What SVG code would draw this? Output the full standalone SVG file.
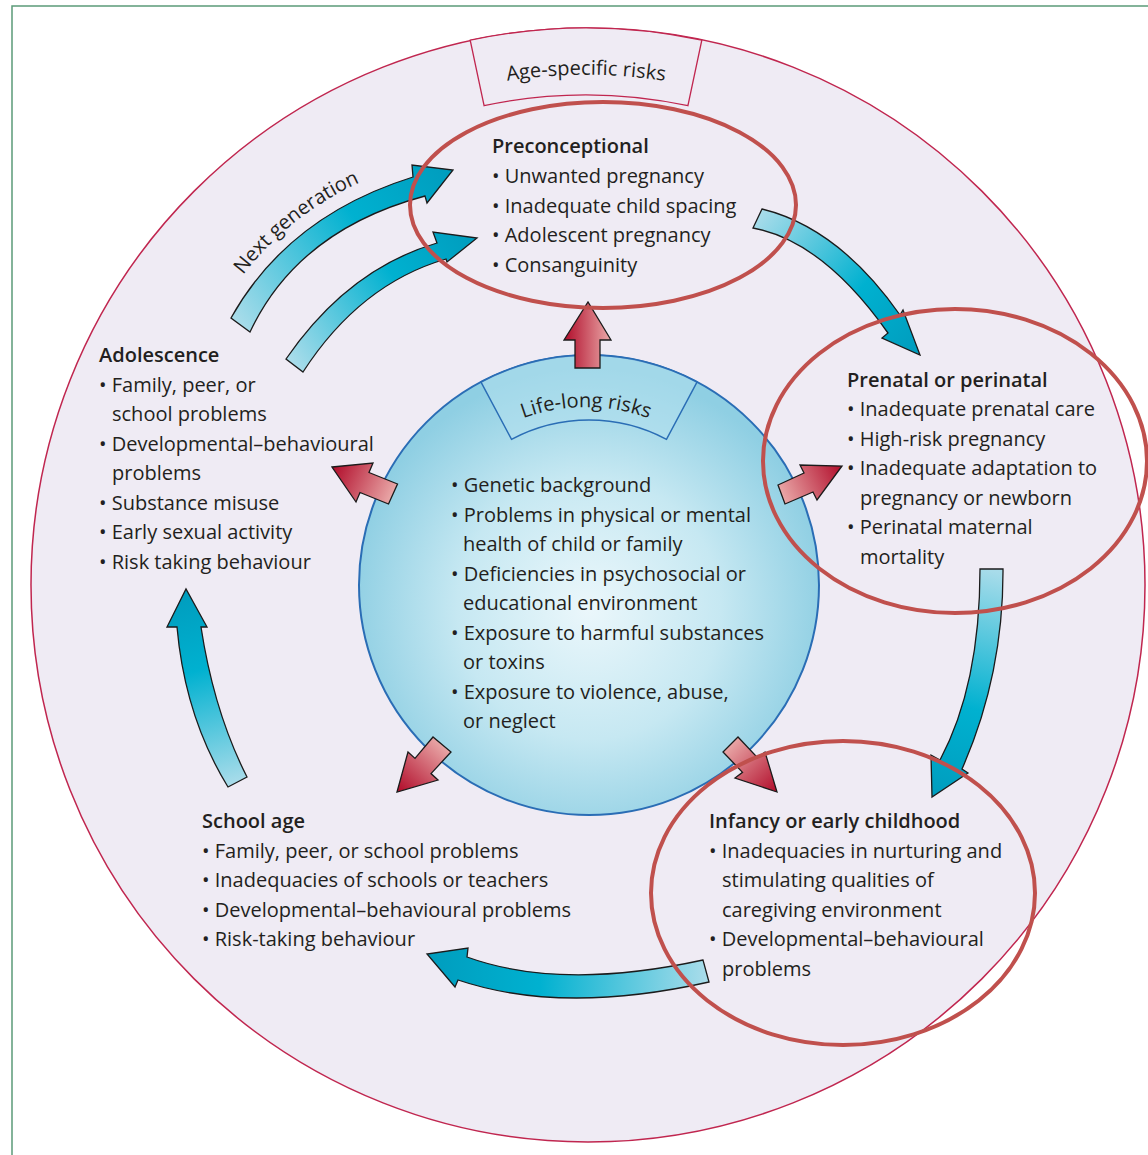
<svg xmlns="http://www.w3.org/2000/svg" width="1148" height="1155" viewBox="0 0 1148 1155">
<defs>
<style>
text{font-family:"Open Sans","Liberation Sans",sans-serif;font-size:20px;fill:#231f20}
.h{font-weight:600}
.blue{stroke:#1b1b1b;stroke-width:1.3;stroke-linejoin:miter}
.red{stroke:#1b1b1b;stroke-width:1.3;stroke-linejoin:miter}
.ring{fill:none;stroke:#c0504d;stroke-width:4}
</style>
<radialGradient id="core" cx="50%" cy="55%" r="52%">
<stop offset="0" stop-color="#ebf7fb"/>
<stop offset="0.55" stop-color="#c6e8f2"/>
<stop offset="1" stop-color="#8fcfe3"/>
</radialGradient>
<linearGradient id="bg">
<stop offset="0" stop-color="#a8dcea"/>
<stop offset="0.6" stop-color="#00b1d0"/>
<stop offset="1" stop-color="#009dbe"/>
</linearGradient>
<linearGradient id="rg">
<stop offset="0" stop-color="#e9a7a7"/>
<stop offset="1" stop-color="#b3122f"/>
</linearGradient>
<linearGradient id="b1" href="#bg" gradientUnits="userSpaceOnUse" x1="240" y1="325" x2="450" y2="172"/>
<linearGradient id="b2" href="#bg" gradientUnits="userSpaceOnUse" x1="295" y1="365" x2="475" y2="240"/>
<linearGradient id="b3" href="#bg" gradientUnits="userSpaceOnUse" x1="757" y1="218" x2="918" y2="350"/>
<linearGradient id="b4" href="#bg" gradientUnits="userSpaceOnUse" x1="990" y1="570" x2="935" y2="795"/>
<linearGradient id="b5" href="#bg" gradientUnits="userSpaceOnUse" x1="706" y1="970" x2="430" y2="960"/>
<linearGradient id="b6" href="#bg" gradientUnits="userSpaceOnUse" x1="238" y1="782" x2="186" y2="592"/>
<linearGradient id="r1" href="#rg" gradientUnits="userSpaceOnUse" x1="610" y1="340" x2="566" y2="340"/>
<linearGradient id="r2" href="#rg" gradientUnits="userSpaceOnUse" x1="393" y1="494" x2="335" y2="468"/>
<linearGradient id="r3" href="#rg" gradientUnits="userSpaceOnUse" x1="781" y1="494" x2="840" y2="467"/>
<linearGradient id="r4" href="#rg" gradientUnits="userSpaceOnUse" x1="442" y1="744" x2="400" y2="790"/>
<linearGradient id="r5" href="#rg" gradientUnits="userSpaceOnUse" x1="730" y1="744" x2="775" y2="790"/>
<path id="ageArc" d="M 416,104 A 509 509 0 0 1 756,104"/>
<path id="lifeArc" d="M 473,447 A 180 180 0 0 1 699,447"/>
<path id="nextArc" d="M 243,275 Q 295,208 375,176"/>
</defs>

<rect x="0" y="0" width="1148" height="1155" fill="#ffffff"/>
<rect x="12" y="6" width="1200" height="1200" fill="none" stroke="#5b9a78" stroke-width="1.5"/>

<g id="outer">
<circle cx="588" cy="585" r="557" fill="#efebf4" stroke="#c0264f" stroke-width="1.5"/>
</g>

<g id="age-label">
<path d="M 470.2,40.2 A 557 557 0 0 1 701.8,40.2 L 687.9,105.7 A 490 490 0 0 0 484.1,105.7 Z" fill="#efebf4" stroke="#c0264f" stroke-width="1.3"/>
<text font-size="22.5"><textPath href="#ageArc" startOffset="50%" text-anchor="middle">Age-specific risks</textPath></text>
</g>

<g id="connectors">
<path class="blue" fill="url(#b1)" d="M 231,318 Q 288,216 413,177 L 412,165 L 453,170 L 427,203 L 425,196 Q 298,230 250,332 Z"/>
<path class="blue" fill="url(#b2)" d="M 286,359 Q 348,269 437,243 L 433,232 L 477,238 L 447,262 L 446,259 Q 360,284 303,372 Z"/>
<path class="blue" fill="url(#b3)" d="M 762,209 Q 839,228 900,315 L 903,310 L 920,355 L 882,338 L 888,333 Q 823,241 753,228 Z"/>
<path class="blue" fill="url(#b4)" d="M 980,569 L 1003,569 Q 1003.5,675 962,769 L 968,773 L 932,797 L 931,755 L 940,760 Q 980,685 980,569 Z"/>
<path class="blue" fill="url(#b5)" d="M 703,960 Q 561,991 467,957 L 468,948 L 427,954 L 455,987 L 458,980 Q 562,1015 709,982 Z"/>
<path class="blue" fill="url(#b6)" d="M 228,787 Q 185,717 177,627 L 167,627 L 186,589 L 207,627 L 201,627 Q 214,712 247,777 Z"/>
<text><textPath href="#nextArc">Next generation</textPath></text>
</g>

<g id="lifelong">
<circle cx="589" cy="585" r="230" fill="url(#core)" stroke="#2a6db5" stroke-width="2"/>
<path d="M 481,382 A 230 230 0 0 1 697,382 L 666.5,439.3 A 165 165 0 0 0 511.5,439.3 Z" fill="#b3e0ee" fill-opacity="0.55" stroke="#2a6db5" stroke-width="1.5"/>
<text font-size="22"><textPath href="#lifeArc" startOffset="50%" text-anchor="middle">Life-long risks</textPath></text>
<text x="451" y="492">• Genetic background</text>
<text x="451" y="521.5">• Problems in physical or mental</text>
<text x="463" y="551">health of child or family</text>
<text x="451" y="580.5">• Deficiencies in psychosocial or</text>
<text x="463" y="610">educational environment</text>
<text x="451" y="639.5">• Exposure to harmful substances</text>
<text x="463" y="669">or toxins</text>
<text x="451" y="698.5">• Exposure to violence, abuse,</text>
<text x="463" y="728">or neglect</text>
</g>

<g id="red-arrows">
<path class="red" fill="url(#r1)" d="M 575,368 L 575,340 L 564,340 L 588,302 L 611,340 L 600,340 L 600,368 Z"/>
<path class="red" fill="url(#r2)" d="M 332,467 L 373,463 L 369,472.5 L 397.5,484 L 388.5,504 L 360,492.5 L 356,502 Z"/>
<path class="red" fill="url(#r3)" d="M 842,466 L 817,500 L 813,492 L 785,504 L 778,485 L 804,473 L 800,465 Z"/>
<path class="red" fill="url(#r4)" d="M 397,792 L 408,752 L 415,758.4 L 433,737 L 451,752 L 431,773.6 L 438,780 Z"/>
<path class="red" fill="url(#r5)" d="M 777,792 L 735,778 L 742.5,772.3 L 723,752 L 738,737 L 757.5,757.7 L 765,752 Z"/>
</g>

<g id="preconceptional">
<text class="h" x="492" y="153">Preconceptional</text>
<text x="492" y="183">• Unwanted pregnancy</text>
<text x="492" y="212.5">• Inadequate child spacing</text>
<text x="492" y="242">• Adolescent pregnancy</text>
<text x="492" y="271.5">• Consanguinity</text>
<ellipse class="ring" cx="603" cy="205" rx="193" ry="103"/>
</g>

<g id="prenatal">
<text class="h" x="847" y="387">Prenatal or perinatal</text>
<text x="847" y="416">• Inadequate prenatal care</text>
<text x="847" y="445.5">• High-risk pregnancy</text>
<text x="847" y="475">• Inadequate adaptation to</text>
<text x="860" y="504.5">pregnancy or newborn</text>
<text x="847" y="534">• Perinatal maternal</text>
<text x="860" y="563.5">mortality</text>
<ellipse class="ring" cx="955" cy="461" rx="192" ry="152"/>
</g>

<g id="infancy">
<text class="h" x="709" y="828">Infancy or early childhood</text>
<text x="709" y="857.5">• Inadequacies in nurturing and</text>
<text x="722" y="887">stimulating qualities of</text>
<text x="722" y="916.5">caregiving environment</text>
<text x="709" y="946">• Developmental–behavioural</text>
<text x="722" y="975.5">problems</text>
<ellipse class="ring" cx="843" cy="893" rx="192" ry="152"/>
</g>

<g id="school-age">
<text class="h" x="202" y="828">School age</text>
<text x="202" y="857.5">• Family, peer, or school problems</text>
<text x="202" y="887">• Inadequacies of schools or teachers</text>
<text x="202" y="916.5">• Developmental–behavioural problems</text>
<text x="202" y="946">• Risk-taking behaviour</text>
</g>

<g id="adolescence">
<text class="h" x="99" y="362">Adolescence</text>
<text x="99" y="391.5">• Family, peer, or</text>
<text x="112" y="421">school problems</text>
<text x="99" y="450.5">• Developmental–behavioural</text>
<text x="112" y="480">problems</text>
<text x="99" y="509.5">• Substance misuse</text>
<text x="99" y="539">• Early sexual activity</text>
<text x="99" y="568.5">• Risk taking behaviour</text>
</g>
</svg>
